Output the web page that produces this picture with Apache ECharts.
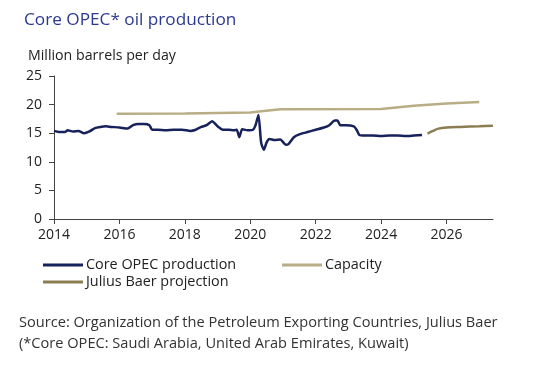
<!DOCTYPE html>
<html>
<head>
<meta charset="utf-8">
<script src="https://cdn.jsdelivr.net/npm/echarts@6/dist/echarts.min.js"></script>
<style>html,body{margin:0;padding:0;background:#fff}#c{width:548px;height:370px}</style>
</head>
<body>
<div id="c"></div>
<script>
var titleText = 'Core OPEC* oil production';
var unitText = 'Million barrels per day';
var sourceLines = ['Source: Organization of the Petroleum Exporting Countries, Julius Baer', '(*Core OPEC: Saudi Arabia, United Arab Emirates, Kuwait)'];
var xTickYears = [2014, 2016, 2018, 2020, 2022, 2024, 2026];
var seriesNames = ['Core OPEC production', 'Capacity', 'Julius Baer projection'];

var prodMonths = ['2014-01','2014-03','2014-05','2014-06','2014-08','2014-10','2014-12','2015-02','2015-04','2015-06','2015-08','2015-10','2016-01','2016-04','2016-06','2016-08','2016-10','2016-12','2017-01','2017-03','2017-06','2017-09','2017-12','2018-03','2018-05','2018-07','2018-09','2018-11','2019-01','2019-03','2019-05','2019-07','2019-08','2019-09','2019-10','2019-12','2020-02','2020-03','2020-04','2020-05','2020-06','2020-07','2020-08','2020-10','2020-12','2021-02','2021-03','2021-05','2021-07','2021-10','2022-01','2022-04','2022-06','2022-08','2022-09','2022-10','2022-12','2023-03','2023-04','2023-05','2023-07','2023-10','2024-01','2024-04','2024-07','2024-10','2025-01','2025-04'];
var prodValues = [15.4,15.2,15.2,15.5,15.3,15.4,15.0,15.3,15.9,16.1,16.2,16.1,16.0,15.8,16.4,16.6,16.6,16.4,15.6,15.6,15.5,15.6,15.6,15.4,15.6,16.1,16.4,17.1,16.2,15.6,15.6,15.5,15.6,14.3,15.7,15.5,15.6,16.5,18.2,13.3,12.1,13.4,14.0,13.8,13.9,13.0,13.1,14.3,14.8,15.2,15.6,16.0,16.4,17.2,17.2,16.4,16.4,16.2,15.6,14.7,14.6,14.6,14.5,14.6,14.6,14.5,14.6,14.7];

var capMonths = ['2015-12','2018-01','2020-01','2020-06','2020-12','2024-01','2025-01','2026-01','2027-01'];
var capValues = [18.4,18.45,18.6,18.9,19.2,19.25,19.8,20.2,20.45];

var projMonths = ['2025-06','2025-08','2025-10','2026-01','2026-06','2027-01','2027-06'];
var projValues = [14.9,15.4,15.8,16.0,16.1,16.2,16.3];

function toYear(m) { var p = m.split('-'); return +p[0] + (+p[1] - 1) / 12; }
function pairs(ms, vs) { return ms.map(function (m, i) { return [toYear(m), vs[i]]; }); }

var FONT = '"Open Sans"';
var legendText = { fontSize: 14.4, color: '#222', fontFamily: FONT, padding: [0, 0, 0, -2] };
var chart = echarts.init(document.getElementById('c'), null, { renderer: 'canvas' });
chart.setOption({
  animation: false,
  backgroundColor: '#fff',
  textStyle: { fontFamily: FONT },
  title: [
    { text: titleText, left: 19, top: 7, textStyle: { fontFamily: FONT, fontSize: 17.2, fontWeight: 'normal', color: '#2b3990' } },
    { text: unitText, left: 23, top: 44, textStyle: { fontFamily: FONT, fontSize: 14.2, fontWeight: 'normal', color: '#222' } }
  ],
  grid: { left: 54, right: 55, top: 76, bottom: 151, containLabel: false },
  xAxis: {
    type: 'value', min: 2014, max: 2027.42, interval: 2,
    splitLine: { show: false },
    axisLine: { show: true, lineStyle: { color: '#444', width: 1 } },
    axisTick: { show: true, length: 5, customValues: xTickYears, lineStyle: { color: '#444' } },
    axisLabel: { customValues: xTickYears, fontSize: 14, color: '#222', margin: 9, fontFamily: FONT, formatter: function (v) { return String(Math.round(v)); } }
  },
  yAxis: {
    type: 'value', min: 0, max: 25, interval: 5,
    splitLine: { show: false },
    axisLine: { show: true, lineStyle: { color: '#444', width: 1 } },
    axisTick: { show: true, length: 5, lineStyle: { color: '#444' } },
    axisLabel: { fontSize: 14, color: '#222', margin: 12, fontFamily: FONT }
  },
  legend: [
    { data: [seriesNames[0]], left: 38, top: 253, itemWidth: 40, itemHeight: 3, icon: 'rect', textStyle: legendText },
    { data: [seriesNames[1]], left: 277, top: 253, itemWidth: 40, itemHeight: 3, icon: 'rect', textStyle: legendText },
    { data: [seriesNames[2]], left: 38, top: 270, itemWidth: 40, itemHeight: 3, icon: 'rect', textStyle: legendText }
  ],
  graphic: sourceLines.map(function (t, i) {
    return { type: 'text', left: 19, top: 315 + i * 21, style: { text: t, fontFamily: FONT, fontSize: 14.6, fill: '#333' } };
  }),
  series: [
    { name: seriesNames[0], type: 'line', data: pairs(prodMonths, prodValues), showSymbol: false, symbol: 'none', smooth: 0.2, lineStyle: { color: '#17215a', width: 2.5 }, itemStyle: { color: '#17215a' } },
    { name: seriesNames[1], type: 'line', data: pairs(capMonths, capValues), showSymbol: false, symbol: 'none', lineStyle: { color: '#b8ad84', width: 2.5 }, itemStyle: { color: '#b8ad84' } },
    { name: seriesNames[2], type: 'line', data: pairs(projMonths, projValues), showSymbol: false, symbol: 'none', smooth: 0.3, lineStyle: { color: '#8a7d52', width: 2.5 }, itemStyle: { color: '#8a7d52' } }
  ]
});
</script>
</body>
</html>
